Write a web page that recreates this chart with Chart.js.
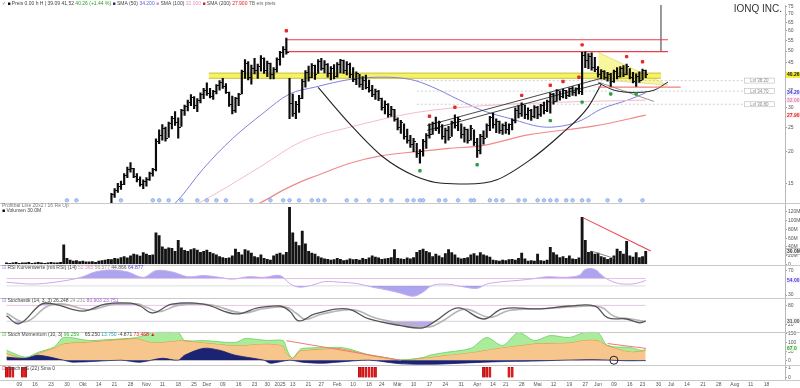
<!DOCTYPE html>
<html lang="de">
<head>
<meta charset="utf-8">
<title>IONQ INC.</title>
<script src="https://cdn.jsdelivr.net/npm/chart.js@4.4.1/dist/chart.umd.min.js"></script>
<style>
html,body{margin:0;padding:0;background:#fff;overflow:hidden;}
canvas{display:block;}
</style>
</head>
<body>
<canvas id="chart" width="800" height="388" style="width:800px;height:388px"></canvas>
<script>
// ---------------- DATA ----------------
const highs = [
7.4,7.2,7.1,7.0,7.2,7.5,7.6,7.7,7.9,8.0,
8.1,8.2,8.1,8.4,8.6,8.5,8.7,8.9,9.3,9.2,
9.3,9.6,9.8,10.2,10.5,10.8,10.6,11.0,11.3,11.6,
11.5,11.9,12.3,13.7,14.3,15.0,15.3,16.4,17.4,18.1,
17.2,16.4,15.9,15.5,15.8,16.6,17.2,22.5,24.4,25.6,
25.0,26.2,27.6,28.8,27.2,29.4,30.6,32.0,33.6,33.0,
32.4,34.2,35.6,37.4,35.6,35.0,36.8,38.2,39.0,37.2,
34.4,33.2,32.8,34.0,42.0,46.2,45.4,44.0,46.8,44.4,
48.0,47.0,45.6,44.8,43.0,47.0,49.8,52.0,56.2,39.0,
33.8,31.6,33.4,38.6,41.8,43.6,44.6,44.0,46.2,46.8,
45.8,44.6,43.4,44.2,45.0,46.4,46.0,45.4,44.8,43.0,
41.4,40.4,39.6,40.2,38.4,36.6,35.4,35.0,32.6,31.8,
31.0,30.2,29.4,27.2,26.6,25.8,24.6,23.2,22.6,21.6,
20.4,22.4,23.6,25.8,26.2,27.4,26.4,25.6,24.8,25.2,
26.4,28.0,27.4,25.8,25.0,24.6,25.4,24.4,22.6,23.4,
24.2,25.8,27.6,28.4,27.0,26.4,25.8,26.2,25.8,27.0,
29.8,30.4,31.2,30.6,29.8,29.4,30.4,30.2,30.8,31.4,
32.0,34.2,34.0,35.2,34.8,35.4,35.0,35.8,36.2,35.8,
36.8,49.4,49.6,48.8,49.2,47.2,43.4,42.2,41.8,41.2,
40.8,42.0,43.0,43.4,43.8,44.4,42.6,41.2,40.6,41.4,
42.4,42.0];
const lows = [
6.9,6.8,6.6,6.5,6.8,7.0,7.2,7.2,7.4,7.6,
7.6,7.8,7.6,7.8,8.1,8.0,8.2,8.4,8.6,8.7,
8.8,9.0,9.2,9.5,9.8,10.1,10.0,10.3,10.6,10.9,
10.8,11.1,11.5,12.4,13.2,13.8,14.2,14.8,15.8,16.6,
15.8,15.2,14.6,14.3,14.6,15.4,16.0,16.8,21.5,22.2,
22.0,22.8,24.6,25.4,22.6,25.2,27.8,29.0,30.4,29.6,
28.8,31.2,32.4,33.4,32.6,32.2,33.8,35.0,35.6,34.0,
30.2,28.2,28.6,30.4,33.8,39.0,38.4,37.0,40.6,39.0,
41.6,40.8,39.6,38.8,38.8,41.2,44.0,47.2,48.6,27.0,
27.6,27.0,28.6,32.4,36.0,38.0,39.2,38.6,40.8,42.0,
41.0,39.4,38.4,38.8,39.4,41.0,40.8,40.2,39.2,37.8,
36.8,36.0,35.2,35.4,34.4,33.0,32.2,31.8,29.2,28.2,
27.4,27.6,26.4,24.4,23.6,22.4,21.6,20.8,20.0,19.0,
18.0,19.2,20.6,22.6,23.4,24.2,23.6,22.4,21.6,22.2,
23.0,24.8,24.2,22.6,21.8,21.6,22.2,21.2,19.0,19.6,
21.4,22.8,24.2,24.8,23.8,23.6,23.4,23.6,23.4,24.4,
26.0,27.2,27.6,27.0,26.8,26.6,27.2,27.0,27.6,28.2,
28.8,28.4,30.8,31.6,32.0,32.6,32.4,33.0,33.4,33.2,
33.8,33.6,43.0,42.6,42.0,41.4,39.4,38.8,38.6,38.0,
36.2,37.6,38.8,39.4,39.6,40.2,38.8,37.4,36.2,37.6,
38.4,39.2];
const closes = [
7.1,7.0,6.8,6.9,7.1,7.4,7.3,7.6,7.8,7.7,
8.0,7.9,7.8,8.3,8.4,8.2,8.6,8.8,9.1,8.9,
9.2,9.5,9.6,10.0,10.3,10.5,10.2,10.8,11.1,11.4,
11.0,11.7,12.1,13.5,14.0,14.6,14.8,16.1,17.0,17.2,
16.0,15.5,14.9,15.2,15.6,16.4,17.0,22.0,23.2,24.8,
22.6,25.8,27.0,26.2,25.0,29.0,30.2,31.4,32.8,30.4,
31.8,33.6,35.0,34.0,33.2,34.6,36.4,37.6,36.2,34.4,
30.8,29.0,32.4,33.6,41.4,44.8,39.2,42.6,41.8,43.6,
46.8,42.0,44.6,40.2,42.4,46.4,49.2,50.6,49.4,31.0,
28.4,30.6,32.6,37.8,41.2,39.4,43.8,40.4,45.6,42.8,
44.4,40.6,42.6,39.8,44.2,45.8,42.0,44.4,40.4,38.6,
40.6,36.8,38.4,36.0,35.0,33.6,34.6,32.4,29.8,30.8,
28.0,29.4,26.8,25.0,26.0,23.0,22.2,21.4,22.0,19.6,
20.0,22.0,23.2,23.4,25.8,24.8,26.0,23.0,24.2,22.8,
26.0,25.4,26.8,23.4,24.4,22.2,24.8,21.8,20.2,23.0,
22.6,25.4,27.2,25.6,26.4,24.2,25.4,24.4,25.6,26.6,
29.2,28.2,30.6,28.0,29.0,27.6,30.0,28.0,30.4,29.2,
31.6,33.6,31.6,34.8,33.2,35.0,33.4,35.4,34.2,35.4,
34.6,47.8,46.0,47.4,43.2,42.2,40.4,41.6,39.2,40.4,
38.0,41.6,39.6,42.8,40.4,43.6,39.4,38.0,39.8,38.4,
41.8,40.26];
const volumeM = [
4,3,4,5,3,4,4,5,3,4,
5,4,3,4,5,4,4,5,45,14,
10,8,9,7,8,6,6,7,5,8,
9,10,12,11,14,13,16,18,15,20,
24,22,19,27,24,21,22,72,66,40,
35,38,37,30,55,38,32,30,34,36,
33,28,30,33,28,25,22,18,16,14,
15,20,35,28,22,34,31,26,18,16,
22,14,12,10,20,24,26,22,28,130,
72,51,43,76,47,30,26,24,18,15,
13,12,10,11,14,12,9,10,13,11,
12,10,14,12,15,20,17,15,12,13,
14,16,34,14,13,12,15,13,16,28,
32,35,30,27,18,24,20,16,25,34,
27,22,15,13,14,16,22,25,20,27,
22,20,17,10,9,8,10,9,11,12,
10,14,26,13,8,9,8,24,9,8,
10,39,27,22,16,18,14,20,13,12,
15,107,55,28,30,24,26,18,16,12,
14,20,35,30,24,53,20,17,27,16,
18,30];

// moving averages [bar index, price]
const sma50 = [[45,10.5],[53,12.5],[62,17.2],[71,22.5],[81,28.6],[89,33.8],[97,36.0],[108,38.6],[118,39.4],[127,38.6],[134,36.0],[142,32.2],[150,29.0],[159,26.9],[168,25.1],[175,25.3],[181,26.7],[187,29.5],[196,32.2],[201,34.2]];
const sma100 = [[55,11.5],[66,13.7],[80,17.5],[93,22.0],[108,25.0],[129,28.6],[150,30.4],[175,31.4],[201,32.0]];
const sma200 = [[70,11.2],[80,12.6],[87,14.1],[93,15.3],[97,16.0],[108,18.0],[118,19.3],[129,20.0],[139,20.6],[150,21.2],[164,23.3],[185,25.3],[201,27.9]];

// drawn chart objects [bar index, price]
const resistHigh = [[88,55.4],[208,55.4]];
const resistLow = [[88,49.7],[208,49.7]];
const verticalMark = [[205.8,49.7],[205.8,80]];
const yellowTop = [[63.6,40.9],[205.8,40.9]];
const yellowBottom = [[63.6,39.0],[205.8,39.0]];
const triangleTop = [[186.1,49.4],[208,36.6]];
const triangleBottom = [[186.1,38.6],[208,36.6]];
const supportShort = [[186,36.0],[212,36.0]];
const dashLevels = [38.2,34.7,30.8];
const dashRange = [129,232];
const bigCup = [[98,35.9],[108,25.7],[118.3,19.1],[128.6,16.0],[137,15.0],[144.8,14.9],[154.2,15.5],[164.2,18.4],[174.5,23.5],[182.9,30.0],[187,36.9]];
const smallCup = [[186.1,37.4],[191.1,35.0],[197.3,34.3],[203.6,35.0],[208,37.7]];
const channelA = [[132.3,25.4],[187,39.0]];
const channelB = [[132.3,24.3],[187,37.3]];
const grayTrend = [[186.1,37.7],[203.6,31.6]];
const redMarkIdx = [88,133,141,162,171,175,180,181,195,200];
const greenMarkIdx = [130,148,171,181,190,198];
const eventIdx = [19,22,36,46,48,51,55,60,63,66,69,77,83,87,89,92,96,98,100,107,110,114,118,121,126,128,130,131,136,138,142,146,147,152,154,156,161,163,167,169,171,173,176,178,181,183,189,193,200];
const EVENT_LEVEL = 12.85;

// volume annotations [bar index, million]
const volTrendRed = [[181.4,106],[202.6,30.6]];
const volTrendGray = [[183.9,30.6],[191.1,14]];

// RSI [bar index, value]
const rsi = [[0,51],[9,48],[19,54],[24,60],[28,68],[33,71],[38,68],[43,59],[47,70],[52,68],[57,60],[62,62],[67,59],[71,56],[76,60],[81,59],[86,62],[89,49],[92,43],[96,46],[100,52],[105,51],[110,49],[115,43],[120,38],[124,33],[128,28],[131,35],[134,46],[139,47.6],[143,44],[148,41],[151,48],[156,52],[161,54],[166,57],[170,60],[175,59],[180,62],[182,72],[185,72],[188,59],[191,51],[194,48],[198,49],[201,54]];
const RSI_UP = 57, RSI_LO = 45;

// Stochastics
const stochK = [[0,47],[4,22],[11,84],[15,84],[24,62],[31,84],[39,87],[42,78],[46,56],[52,84],[62,84],[72,53],[79,72],[86,78],[89,62],[92,31],[97,53],[107,69],[114,37],[124,16],[131,9],[135,31],[142,72],[150,37],[156,69],[168,69],[177,78],[185,78],[189,41],[195,37],[199,25],[201,31]];
const stochD = [[0,55],[6,28],[13,78],[18,84],[26,66],[33,82],[41,85],[44,74],[48,60],[54,80],[64,82],[74,56],[81,70],[88,74],[91,56],[94,36],[99,52],[109,66],[116,40],[126,20],[133,12],[137,30],[144,68],[152,42],[158,64],[170,70],[179,76],[187,74],[191,46],[197,36],[201,28]];
const ST_UP = 80, ST_LO = 30;

// Momentum panel
const momSlots  = [0,6,10,15,18,26,31,41,46,54,56,62,72,75,82,87,88,89,90,92,93,104,107,114,118,124,131,133,138,146,151,156,161,166,171,177,182,186,189,196,200,201];
const momOrange = [39,11,39,70,94,104,111,122,100,111,110,100,83,86,93,80,39,25,10,50,56,67,60,28,17,0,13,17,28,44,58,72,83,94,97,100,114,112,83,49,53,56];
const momGreen  = [56,17,45,75,128,111,115,128,158,156,111,111,100,122,111,111,70,28,12,55,67,72,67,30,18,2,15,28,44,67,128,83,156,111,139,128,158,156,83,72,55,67];
const momNavy = [[0,17],[6,11],[10,28],[18,0],[21,-11],[36,0],[42,-11],[49,11],[54,0],[56,28],[62,67],[67,56],[72,28],[81,0],[83,-17],[89,0],[93,-11],[99,-17],[104,-11],[114,0],[124,-20],[135,-22],[145,-15],[155,-8],[165,-5],[175,0],[185,3],[195,-3],[201,-2]];
const momRed = [[88,110],[124,0],[150,null],[189,94],[201,67]];
const momCircle = [[191,0]];

// signal panel
const signalIdx = [0,1,2,5,6,111,112,113,114,115,116,150,151,152,158,159];

// axes ticks
const priceTicks = [15,20,25,30,35,40,45,50,55,60,65,70,75];
const volTicks = [0,20,40,60,80,100,120];
const rsiTicks = [30,70];
const stochTicks = [20,80];
const momTicks = [0,50,100,150];
const sigTicks = [0,1];
const monthNames = ['Jan','Feb','Mär','Apr','Mai','Jun','Jul','Aug','Sep','Okt','Nov','Dez'];
const holidays = ['2024-11-28','2024-12-25','2025-01-01','2025-01-09','2025-01-20','2025-02-17','2025-04-18','2025-05-26','2025-06-19','2025-07-04'];
const FIRST_DAY = [2024, 8, 3];
const TOTAL_SLOTS = 246;

// ---------------- build calendar labels ----------------
const dates = [];
{
  const d = new Date(Date.UTC(FIRST_DAY[0], FIRST_DAY[1], FIRST_DAY[2]));
  while (dates.length < TOTAL_SLOTS) {
    const dow = d.getUTCDay(), iso = d.toISOString().slice(0, 10);
    if (dow !== 0 && dow !== 6 && !holidays.includes(iso)) dates.push(new Date(d.getTime()));
    d.setUTCDate(d.getUTCDate() + 1);
  }
}
const tickSlots = [], tickText = {};
{
  let lastMonth = dates[0].getUTCMonth();
  for (let i = 1; i < dates.length; i++) {
    if (dates[i].getUTCDay() < dates[i - 1].getUTCDay()) {
      const m = dates[i].getUTCMonth();
      let lab;
      if (m !== lastMonth) { lab = m === 0 ? String(dates[i].getUTCFullYear()) : monthNames[m]; lastMonth = m; }
      else lab = String(dates[i].getUTCDate()).padStart(2, '0');
      tickSlots.push(i); tickText[i] = lab;
    }
  }
}

// ---------------- chart ----------------
const FONT = '"Liberation Sans", Arial, sans-serif';
Chart.defaults.font.family = FONT;
Chart.defaults.font.size = 5;
Chart.defaults.animation = false;

const pts = arr => arr.map(([x, y]) => ({ x, y }));
const ds = [];
const add = d => { ds.push(Object.assign({ pointRadius: 0, pointHoverRadius: 0, pointHitRadius: 0, xAxisID: 'x' }, d)); return ds.length - 1; };
const lineDs = (data, yAxisID, color, width, extra) => add(Object.assign({ type: 'line', data, yAxisID, borderColor: color, borderWidth: width, fill: false, tension: 0 }, extra || {}));

// price bars
add({ type: 'bar', data: highs.map((h, i) => ({ x: i, y: [lows[i], h] })), yAxisID: 'yP', backgroundColor: '#0c0c0c', borderWidth: 0, barThickness: 1.5, grouped: false, order: 2 });
// close ticks (right side)
const tickImg = document.createElement('canvas'); tickImg.width = 5; tickImg.height = 1;
{ const tc = tickImg.getContext('2d'); tc.fillStyle = '#111'; tc.fillRect(3, 0, 2, 1); }
add({ type: 'scatter', data: closes.map((c, i) => ({ x: i, y: c })), yAxisID: 'yP', pointStyle: tickImg, pointRadius: 2, order: 2 });

// yellow zone
const yz = lineDs(pts(yellowTop), 'yP', '#c2ba3c', 0.9, { order: 9 });
lineDs(pts(yellowBottom), 'yP', '#c2ba3c', 0.9, { order: 9, fill: { target: yz }, backgroundColor: 'rgba(246,240,70,0.85)' });
// triangle
const tz = lineDs(pts(triangleTop), 'yP', '#d8d070', 0.6, { order: 9 });
lineDs(pts(triangleBottom), 'yP', '#d8d070', 0.6, { order: 9, fill: { target: tz }, backgroundColor: 'rgba(248,244,130,0.8)' });
// dashed levels
dashLevels.forEach(v => lineDs(pts([[dashRange[0], v], [dashRange[1], v]]), 'yP', '#c4c4c4', 0.8, { borderDash: [2, 2], order: 8 }));
// moving averages
lineDs(pts(sma100), 'yP', '#f3bccb', 1, { tension: 0.35, order: 7 });
lineDs(pts(sma200), 'yP', '#f08a8a', 1.2, { tension: 0.35, order: 7 });
lineDs(pts(sma50), 'yP', '#8080dd', 1, { tension: 0.35, order: 7 });
// drawn objects
lineDs(pts(resistHigh), 'yP', '#e8404a', 1.1, { order: 5 });
lineDs(pts(resistLow), 'yP', '#e8404a', 1.1, { order: 5 });
lineDs(pts(supportShort), 'yP', '#ee6060', 1, { order: 5 });
lineDs(pts(verticalMark), 'yP', '#333', 1, { order: 5 });
lineDs(pts(bigCup), 'yP', '#222', 1.1, { cubicInterpolationMode: 'monotone', order: 5 });
lineDs(pts(smallCup), 'yP', '#222', 1, { cubicInterpolationMode: 'monotone', order: 5 });
lineDs(pts(channelA), 'yP', '#333', 0.9, { order: 5 });
lineDs(pts(channelB), 'yP', '#333', 0.9, { order: 5 });
lineDs(pts(grayTrend), 'yP', '#888', 0.9, { order: 5 });
// markers
add({ type: 'scatter', data: redMarkIdx.map(i => ({ x: i, y: highs[i] * 1.07 })), yAxisID: 'yP', pointStyle: 'rectRounded', pointRadius: 2, backgroundColor: '#e52b2b', borderColor: '#e52b2b', borderWidth: 0, order: 0 });
add({ type: 'scatter', data: greenMarkIdx.map(i => ({ x: i, y: lows[i] / 1.07 })), yAxisID: 'yP', pointStyle: 'rectRounded', pointRadius: 2, backgroundColor: '#2f9e44', borderColor: '#2f9e44', borderWidth: 0, order: 0 });
add({ type: 'scatter', data: eventIdx.map(i => ({ x: i, y: EVENT_LEVEL })), yAxisID: 'yP', pointStyle: 'circle', pointRadius: 1.8, backgroundColor: '#b4cdf6', borderColor: '#6f97e0', borderWidth: 0.6, order: 0 });

// volume
add({ type: 'bar', data: volumeM.map((v, i) => ({ x: i, y: v })), yAxisID: 'yV', backgroundColor: '#141414', borderWidth: 0, barThickness: 2.2, grouped: false, order: 2 });
lineDs(pts(volTrendRed), 'yV', '#e8404a', 1.1, { order: 0 });
lineDs(pts(volTrendGray), 'yV', '#777', 0.9, { order: 0 });

// RSI
lineDs(pts([[0, RSI_UP], [201, RSI_UP]]), 'yR', '#f1c6dc', 0.8, { order: 6 });
lineDs(pts([[0, RSI_LO], [201, RSI_LO]]), 'yR', '#d4d4d4', 0.8, { order: 6 });
lineDs(pts(rsi), 'yR', '#c9abef', 1, { tension: 0.35, order: 3, fill: { target: { value: RSI_UP }, above: 'rgba(118,104,230,0.6)', below: 'rgba(0,0,0,0)' } });
lineDs(pts(rsi), 'yR', 'rgba(0,0,0,0)', 0, { tension: 0.35, order: 4, fill: { target: { value: RSI_LO }, above: 'rgba(0,0,0,0)', below: 'rgba(118,104,230,0.6)' } });

// Stochastics
lineDs(pts([[0, ST_UP], [201, ST_UP]]), 'yS', '#f1c6dc', 0.8, { order: 6 });
lineDs(pts([[0, ST_LO], [201, ST_LO]]), 'yS', '#d8d8d8', 0.8, { order: 6 });
lineDs(pts(stochK), 'yS', 'rgba(0,0,0,0)', 0, { tension: 0.4, order: 5, fill: { target: { value: ST_UP }, above: 'rgba(140,110,220,0.6)', below: 'rgba(0,0,0,0)' } });
lineDs(pts(stochK), 'yS', 'rgba(0,0,0,0)', 0, { tension: 0.4, order: 5, fill: { target: { value: ST_LO }, above: 'rgba(0,0,0,0)', below: 'rgba(140,110,220,0.6)' } });
lineDs(pts(stochD), 'yS', '#b5b5b5', 1.6, { tension: 0.4, order: 2 });
lineDs(pts(stochK), 'yS', '#555', 1.3, { tension: 0.4, order: 1 });

// Momentum
const orIdx = lineDs(momSlots.map((x, i) => ({ x, y: momOrange[i] })), 'yO', '#ee8a2a', 1, { tension: 0.3, order: 6, fill: 'origin', backgroundColor: '#f7c68c' });
lineDs(momSlots.map((x, i) => ({ x, y: momGreen[i] })), 'yO', '#6fcf5c', 0.8, { tension: 0.3, order: 5, fill: { target: orIdx }, backgroundColor: '#a9ec9c' });
lineDs(pts(momNavy), 'yO', '#1c2270', 0.8, { tension: 0.3, order: 3, fill: 'origin', backgroundColor: '#1d2373' });
lineDs(pts(momRed), 'yO', '#ef7a7a', 1, { order: 2 });
add({ type: 'scatter', data: pts(momCircle), yAxisID: 'yO', pointStyle: 'circle', pointRadius: 4, backgroundColor: 'rgba(0,0,0,0)', borderColor: '#222', borderWidth: 1, order: 0 });

// signal bars
add({ type: 'bar', data: signalIdx.map(i => ({ x: i, y: 1 })), yAxisID: 'yG', backgroundColor: '#e3191c', borderColor: '#9b0d0d', borderWidth: 0.5, barThickness: 2.3, grouped: false, order: 1 });

function panelAxis(weight, min, max, tickVals, fmt, extra) {
  return Object.assign({
    type: 'linear', position: 'right', stack: 'panels', stackWeight: weight, min, max,
    grid: { display: true, drawOnChartArea: false, drawTicks: true, tickLength: 2, color: '#9a9a9a' },
    border: { display: true, color: '#b8b8b8' },
    ticks: { font: { size: 5, family: FONT }, color: '#555', padding: 1, autoSkip: false, maxRotation: 0, callback: fmt },
    afterBuildTicks: sc => { sc.ticks = tickVals.map(v => ({ value: v })); },
    afterFit: sc => { sc.width = 15; sc.paddingTop = 0; sc.paddingBottom = 0; }
  }, extra || {});
}

function runs(c, x, y, list) {
  c.font = '5px ' + FONT; c.textBaseline = 'middle'; c.textAlign = 'left';
  list.forEach(([t, col]) => { c.fillStyle = col; c.fillText(t, x, y); x += c.measureText(t).width; });
}
function tag(c, scale, value, text, bg, fg, border) {
  const y = scale.getPixelForValue(value);
  c.font = 'bold 5px ' + FONT; c.textBaseline = 'middle'; c.textAlign = 'left';
  const w = c.measureText(text).width + 2;
  if (bg) { c.fillStyle = bg; c.fillRect(786, y - 3, w, 6); }
  if (border) { c.strokeStyle = border; c.lineWidth = 0.6; c.strokeRect(786, y - 3, w, 6); }
  c.fillStyle = fg; c.fillText(text, 787, y + 0.3);
}

const overlay = {
  id: 'overlay',
  beforeDatasetDraw(chart, args) {
    const ys = chart.scales[args.meta.yAxisID], ca = chart.chartArea, c = chart.ctx;
    c.save(); c.beginPath(); c.rect(ca.left, ys.top, ca.right - ca.left, ys.bottom - ys.top); c.clip();
  },
  afterDatasetDraw(chart) { chart.ctx.restore(); },
  afterDraw(chart) {
    const c = chart.ctx, s = chart.scales;
    c.save();
    c.strokeStyle = '#c9c9c9'; c.lineWidth = 1;
    ['yV', 'yR', 'yS', 'yO', 'yG'].forEach(id => {
      const y = Math.round(s[id].top) + 0.5; c.beginPath(); c.moveTo(0, y); c.lineTo(chart.width, y); c.stroke();
    });
    const yb = Math.round(s.yG.bottom) + 0.5;
    c.beginPath(); c.moveTo(0, yb); c.lineTo(chart.width, yb); c.stroke();

    // x axis labels (weekly)
    c.font = '5px ' + FONT; c.textBaseline = 'top'; c.textAlign = 'center'; c.fillStyle = '#555';
    tickSlots.forEach(slot => {
      const x = s.x.getPixelForValue(slot);
      if (x > 4 && x < 781) c.fillText(tickText[slot], x, yb + 2);
    });

    const last = closes.length - 1;
    runs(c, 2, 4, [['\u2713 ', '#3a3'], ['\u25A0 ', '#000'], ['Preis 0.00 h H | 39.09 41.52 ', '#444'], [closes[last].toFixed(2) + ' (+1.44 %)', '#2a9d2a'],
      [' \u25A0 ', '#1a237e'], ['SMA (50) ', '#444'], [sma50[sma50.length - 1][1].toFixed(3), '#5b5fd6'],
      [' \u25A0 ', '#e58fc8'], ['SMA (100) ', '#444'], [sma100[sma100.length - 1][1].toFixed(3), '#e58fc8'],
      [' \u25A0 ', '#e31a1c'], ['SMA (200) ', '#444'], [sma200[sma200.length - 1][1].toFixed(3), '#e31a1c'], [' TB ein preis', '#666']]);
    runs(c, 2, s.yV.top + 2.5, [['Profitbal Line 20x2 / 16 Re Up', '#777']]);
    runs(c, 2, s.yV.top + 7, [['\u25A0 ', '#000'], ['Volumen ' + volumeM[last].toFixed(1) + 'M', '#444']]);
    runs(c, 2, s.yR.top + 3, [['\u2611 ', '#7b68ee'], ['RSI Kurvenwerte (mit RSI) (14) ', '#444'], ['52.365 ', '#e58fc8'], ['56.577 ', '#999'], ['44.866 ', '#555'], ['64.877', '#4b3fd1']]);
    runs(c, 2, s.yS.top + 3, [['\u2611 ', '#7b68ee'], ['Stochastik (14, 3, 3) 26.248 ', '#444'], ['24.231 ', '#999'], ['80.903 ', '#b05fd8'], ['23.751', '#b05fd8']]);
    runs(c, 2, s.yO.top + 3, [['\u2611 ', '#3a3'], ['Stoch Momentum (10, 3) ', '#444'], ['96.259 ', '#3a3'], ['   65.250 ', '#444'], ['13.750 ', '#29a0b0'], ['-4.871 ', '#444'], ['73.468 \u25B2', '#e31a1c']]);
    runs(c, 2, s.yG.top + 3, [['\u2611 ', '#e31a1c'], ['Stoch x/S (22) Sma 0', '#444']]);

    // title
    c.font = '10px ' + FONT; c.textBaseline = 'middle'; c.textAlign = 'right';
    const tw = c.measureText('IONQ INC.').width;
    c.fillStyle = '#fff'; c.fillRect(782 - tw - 2, 3, tw + 4, 12);
    c.fillStyle = '#333'; c.fillText('IONQ INC.', 782, 9.5);

    // boxes for dashed levels
    c.font = '4.5px ' + FONT; c.textAlign = 'center';
    dashLevels.forEach(v => {
      const y = s.yP.getPixelForValue(v), x0 = s.x.getPixelForValue(dashRange[1]);
      c.fillStyle = '#fff'; c.fillRect(x0, y - 2.5, 30, 5);
      c.strokeStyle = '#bbb'; c.lineWidth = 0.6; c.strokeRect(x0, y - 2.5, 30, 5);
      c.fillStyle = '#888'; c.fillText('Lvl ' + v.toFixed(2), x0 + 15, y + 0.2);
    });

    // axis tags
    tag(c, s.yP, closes[last], closes[last].toFixed(2), '#f5ec2c', '#111');
    tag(c, s.yP, sma50[sma50.length - 1][1], sma50[sma50.length - 1][1].toFixed(2), '#eef', '#3b3bd0');
    tag(c, s.yP, sma100[sma100.length - 1][1], sma100[sma100.length - 1][1].toFixed(2), '#fdf0f5', '#e07fb8');
    tag(c, s.yP, sma200[sma200.length - 1][1], sma200[sma200.length - 1][1].toFixed(2), '#fff0f0', '#e31a1c');
    tag(c, s.yV, volumeM[last], volumeM[last].toFixed(1) + 'M', '#fff', '#333', '#999');
    tag(c, s.yR, rsi[rsi.length - 1][1], rsi[rsi.length - 1][1].toFixed(2), '#f4f0ff', '#4b3fd1');
    tag(c, s.yS, stochK[stochK.length - 1][1], stochK[stochK.length - 1][1].toFixed(2), '#f4f4f4', '#555');
    tag(c, s.yO, momGreen[momGreen.length - 1], momGreen[momGreen.length - 1].toFixed(1), '#eefbea', '#2a9d2a');
    c.restore();
  }
};

new Chart(document.getElementById('chart'), {
  type: 'bar',
  data: { datasets: ds },
  options: {
    responsive: false, devicePixelRatio: 1, animation: false, events: [],
    layout: { padding: 0 },
    plugins: { legend: { display: false }, tooltip: { enabled: false } },
    scales: {
      x: {
        type: 'linear', position: 'bottom', min: -0.47, max: 244.8, offset: false,
        grid: { display: false }, border: { display: false },
        ticks: { display: false },
        afterBuildTicks: sc => { sc.ticks = tickSlots.map(v => ({ value: v })); },
        afterFit: sc => { sc.height = 8; sc.paddingLeft = 0; sc.paddingRight = 0; }
      },
      yP: panelAxis(201, 12.5, 76, priceTicks, v => String(v), { type: 'logarithmic' }),
      yV: panelAxis(62, 0, 139, volTicks, v => v === 0 ? '0' : v + 'M'),
      yR: panelAxis(34, 25, 80, rsiTicks, v => String(v)),
      yS: panelAxis(34, -3, 103, stochTicks, v => String(v)),
      yO: panelAxis(34, -28, 161, momTicks, v => String(v)),
      yG: panelAxis(15, -0.2, 1.2, sigTicks, v => String(v))
    }
  },
  plugins: [overlay]
});
</script>
</body>
</html>
